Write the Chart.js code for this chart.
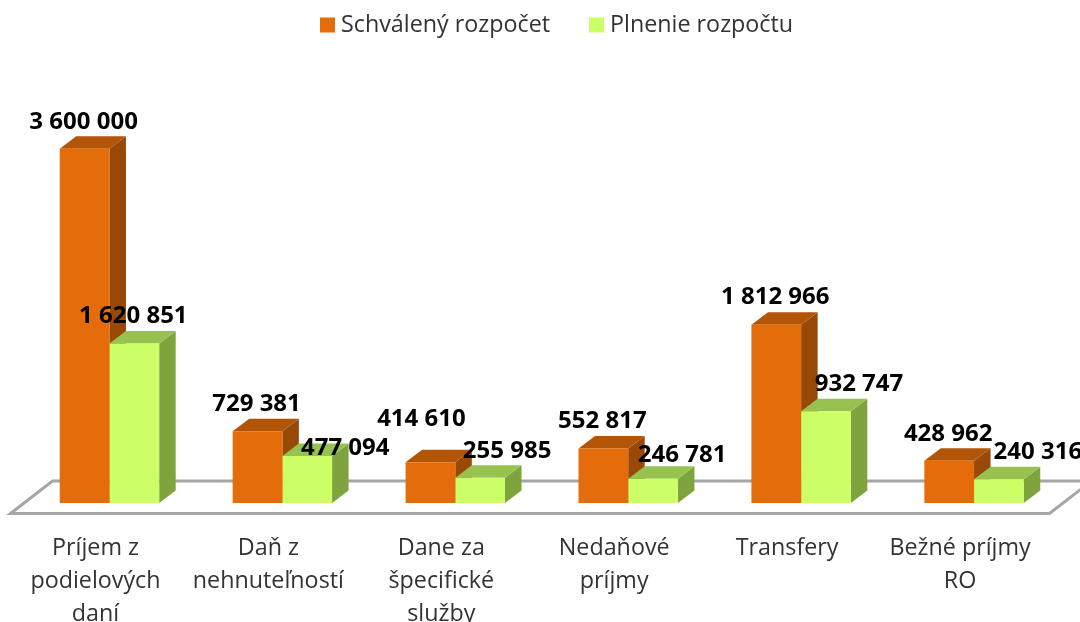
<!DOCTYPE html>
<html><head><meta charset="utf-8">
<style>html,body{margin:0;padding:0;background:#fff;overflow:hidden}canvas{display:block}</style>
<script src="https://cdn.jsdelivr.net/npm/chart.js@4/dist/chart.umd.min.js"></script>
</head><body><canvas id="c" width="1080" height="622"></canvas>
<script>
const categories = [
  ["Príjem z","podielových","daní"],
  ["Daň z","nehnuteľností"],
  ["Dane za","špecifické","služby"],
  ["Nedaňové","príjmy"],
  ["Transfery"],
  ["Bežné príjmy","RO"]
];
const seriesNames = ["Schválený rozpočet","Plnenie rozpočtu"];
const approved = [3600000,729381,414610,552817,1812966,428962];
const actual = [1620851,477094,255985,246781,932747,240316];

const FONT = '"Open Sans"';
const DEPTH_X = 16.5, DEPTH_Y = 12.5;
const palette = [
  {front:'#E46C0A', side:'#984807', top:'#B25506'},
  {front:'#CCFF66', side:'#7FA33D', top:'#98C24F'}
];
const nudges = [
  [[0,0],[0,0],[-8,-16],[0,0],[0,0],[0,0]],
  [[0,0],[39,19],[28,0],[30,3],[34,0],[40,0]]
];
const fmt = v => String(v).replace(/\B(?=(\d{3})+$)/g,' ');

const bars3d = {
  id:'bars3d',
  afterLayout(chart){
    const l = chart.legend;
    l.left += 17.6; l.right += 17.6;
    l.top -= 33.3; l.bottom -= 33.3;
  },
  beforeDatasetsDraw(chart){
    const ctx = chart.ctx, a = chart.chartArea, y0 = chart.scales.y.getPixelForValue(0);
    ctx.save();
    ctx.beginPath();
    ctx.moveTo(a.left-12.5, y0+10.5);
    ctx.lineTo(a.left+29.5, y0-22);
    ctx.lineTo(a.right+31, y0-22);
    ctx.lineTo(a.right-11, y0+10.5);
    ctx.closePath();
    ctx.fillStyle='#fff'; ctx.fill();
    ctx.strokeStyle='#A6A6A6'; ctx.lineWidth=3; ctx.stroke();
    chart.data.datasets.forEach((ds,i)=>{
      const c = palette[i];
      chart.getDatasetMeta(i).data.forEach(b=>{
        const w = b.width/2, l=b.x-w, r=b.x+w, t=b.y, bt=b.base;
        ctx.fillStyle=c.side; ctx.beginPath();
        ctx.moveTo(r,t);ctx.lineTo(r+DEPTH_X,t-DEPTH_Y);ctx.lineTo(r+DEPTH_X,bt-DEPTH_Y);ctx.lineTo(r,bt);ctx.closePath();ctx.fill();
        ctx.fillStyle=c.top; ctx.beginPath();
        ctx.moveTo(l,t);ctx.lineTo(l+DEPTH_X,t-DEPTH_Y);ctx.lineTo(r+DEPTH_X,t-DEPTH_Y);ctx.lineTo(r,t);ctx.closePath();ctx.fill();
      });
    });
    ctx.restore();
  },
  afterDatasetsDraw(chart){
    const ctx = chart.ctx;
    ctx.save();
    ctx.font = 'bold 24px '+FONT;
    ctx.fillStyle='#000'; ctx.textAlign='center'; ctx.textBaseline='middle';
    chart.data.datasets.forEach((ds,i)=>{
      chart.getDatasetMeta(i).data.forEach((b,j)=>{
        const n = nudges[i][j];
        ctx.fillText(fmt(ds.data[j]), b.x-1+n[0], b.y-27+n[1]);
      });
    });
    ctx.restore();
  }
};

new Chart(document.getElementById('c'),{
  type:'bar',
  data:{labels:categories,datasets:[
    {label:seriesNames[0],data:approved,backgroundColor:palette[0].front,borderWidth:0,pointStyle:'rect'},
    {label:seriesNames[1],data:actual,backgroundColor:palette[1].front,borderWidth:0,pointStyle:'rect'}
  ]},
  options:{
    responsive:false,animation:false,
    layout:{padding:{left:23,right:19.5,top:2,bottom:0}},
    datasets:{bar:{categoryPercentage:0.575,barPercentage:1}},
    plugins:{
      tooltip:{enabled:false},
      legend:{position:'top',labels:{
        usePointStyle:true,boxWidth:3.7,boxHeight:15,padding:44.65,
        color:'#333',font:{family:FONT,size:23.3}
      }}
    },
    scales:{
      x:{
        grid:{display:false},border:{display:false},
        afterFit(s){s.height=119;},
        ticks:{padding:21,labelOffset:-14,maxRotation:0,autoSkip:false,color:'#333',
          font:{family:FONT,size:23.3,lineHeight:'33px'}}
      },
      y:{display:false,min:0,max:4300000}
    }
  },
  plugins:[bars3d]
});
</script></body></html>
